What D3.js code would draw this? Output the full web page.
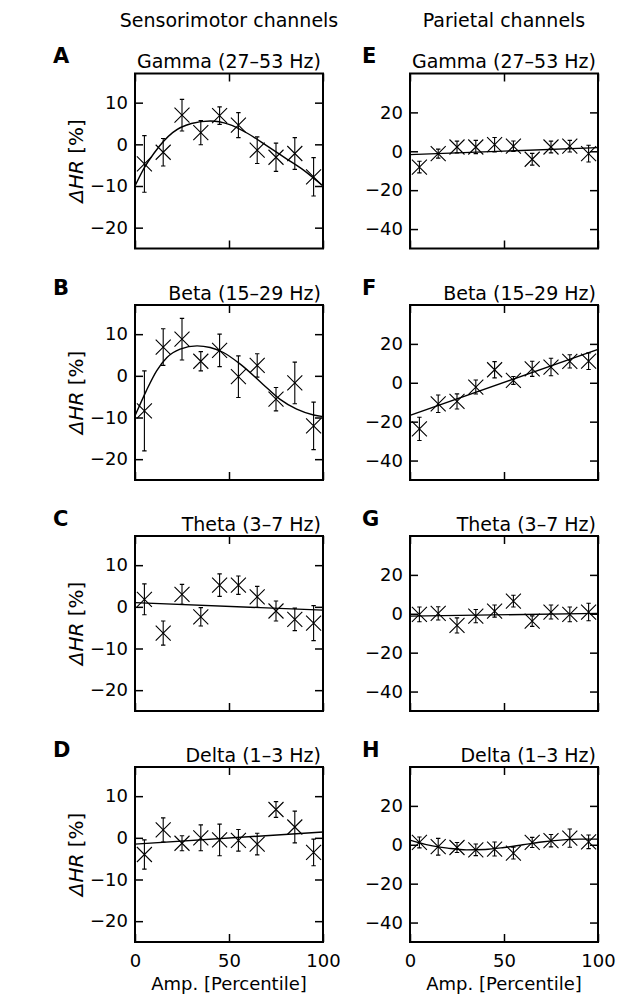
<!DOCTYPE html>
<html>
<head>
<meta charset="utf-8">
<script src="https://cdn.jsdelivr.net/npm/d3@7.9.0/dist/d3.min.js"></script>
<style>
  body { margin: 0; background: #fff; }
  svg { display: block; }
  text { font-family: "DejaVu Sans", sans-serif; fill: #000; }
</style>
</head>
<body>
<div id="chart"></div>
<script>
// amplitude deciles (x positions of the markers)
const deciles = [5, 15, 25, 35, 45, 55, 65, 75, 85, 95];

// sensorimotor channels, ΔHR [%] and error bars
const smGamma = [-4.7, -1.9, 7.0, 2.8, 6.9, 4.6, -1.4, -3.1, -2.2, -7.8];
const smGammaErr = [6.8, 3.3, 3.8, 2.9, 2.1, 3.0, 3.2, 3.4, 3.8, 4.6];
const smBeta = [-8.4, 6.9, 8.8, 3.5, 6.1, -0.2, 2.5, -5.6, -1.7, -12.0];
const smBetaErr = [9.6, 4.4, 5.0, 2.3, 3.9, 5.0, 2.8, 2.8, 5.0, 5.7];
const smTheta = [1.8, -6.3, 3.0, -2.4, 5.2, 5.2, 2.4, -1.0, -3.0, -3.9];
const smThetaErr = [3.7, 2.9, 2.4, 2.2, 2.7, 2.2, 2.5, 2.4, 2.7, 4.2];
const smDelta = [-4.0, 1.9, -1.3, 0.0, -0.5, -0.6, -1.5, 6.8, 2.6, -3.5];
const smDeltaErr = [3.5, 2.9, 1.8, 3.1, 3.8, 2.6, 2.6, 1.9, 3.8, 3.2];

// parietal channels
const paGamma = [-8.1, -1.2, 2.2, 2.2, 3.4, 2.6, -4.1, 2.2, 2.6, -1.2];
const paGammaErr = [3.0, 2.3, 3.0, 3.4, 3.7, 2.7, 3.0, 3.0, 3.0, 4.3];
const paBeta = [-23.7, -10.8, -9.6, -2.2, 6.7, 1.2, 7.2, 8.1, 11.0, 11.1];
const paBetaErr = [6.0, 4.5, 3.9, 3.6, 4.2, 2.0, 3.9, 4.5, 3.4, 4.3];
const paTheta = [-0.3, 0.2, -6.0, -1.2, 1.4, 6.5, -3.8, 0.9, -0.3, 0.9];
const paThetaErr = [3.8, 3.4, 3.9, 3.4, 3.1, 3.0, 2.7, 3.6, 3.8, 4.5];
const paDelta = [1.2, -1.0, -1.4, -2.6, -2.2, -4.3, 1.2, 2.1, 3.4, 1.5];
const paDeltaErr = [2.8, 4.3, 2.6, 3.0, 3.6, 3.0, 2.6, 3.2, 4.7, 3.5];

// fitted curves, [percentile, ΔHR]
const fitSmGamma = [[0, -10], [5, -5.6], [10, -2.2], [20, 2.8], [30, 5.0], [40, 5.6], [50, 4.8], [60, 2.6], [70, -0.3], [80, -3.3], [90, -6.3], [100, -10]];
const fitSmBeta = [[0, -9.6], [6, -3.6], [11.5, 1.2], [17, 4.4], [24, 6.4], [33, 7.2], [40, 6.8], [47, 5.6], [56, 2.8], [68, -2], [77, -5.6], [86, -8], [95, -9.4], [100, -9.8]];
const fitSmTheta = [[0, 1.0], [100, -0.8]];
const fitSmDelta = [[0, -1.5], [100, 1.4]];
const fitPaGamma = [[0, -1.7], [100, 1.9]];
const fitPaBeta = [[0, -16.8], [100, 17.2]];
const fitPaTheta = [[0, -1.2], [100, 0.2]];
const fitPaDelta = [[0, 2.4], [10, -0.2], [20, -1.7], [30, -2.6], [40, -2.4], [50, -1.4], [60, 0], [70, 1.4], [80, 2.4], [90, 2.9], [100, 2.9]];

const bandTitles = ['Gamma (27–53 Hz)', 'Beta (15–29 Hz)', 'Theta (3–7 Hz)', 'Delta (1–3 Hz)'];
const columnTitles = ['Sensorimotor channels', 'Parietal channels'];
const letters = [['A', 'B', 'C', 'D'], ['E', 'F', 'G', 'H']];
const xTicks = [0, 50, 100];
const smYTicks = [10, 0, -10, -20];
const paYTicks = [20, 0, -20, -40];
const smDomain = [-25, 17];
const paDomain = [-50, 40];

const width = 619;
const height = 997;
const colX = [135, 410];
const rowY = [73.5, 305, 536, 767];
const plotW = 188;
const plotH = 175;

const columns = [
  {
    values: [smGamma, smBeta, smTheta, smDelta],
    errors: [smGammaErr, smBetaErr, smThetaErr, smDeltaErr],
    fits: [fitSmGamma, fitSmBeta, fitSmTheta, fitSmDelta],
    domain: smDomain,
    ticks: smYTicks,
  },
  {
    values: [paGamma, paBeta, paTheta, paDelta],
    errors: [paGammaErr, paBetaErr, paThetaErr, paDeltaErr],
    fits: [fitPaGamma, fitPaBeta, fitPaTheta, fitPaDelta],
    domain: paDomain,
    ticks: paYTicks,
  },
];

const svg = d3.select('#chart')
  .append('svg')
  .attr('width', width)
  .attr('height', height);

columnTitles.forEach((t, c) => {
  svg.append('text')
    .attr('x', colX[c] + plotW / 2)
    .attr('y', 26.5)
    .attr('text-anchor', 'middle')
    .style('font-size', '19px')
    .text(t);
});

const xScale = d3.scaleLinear().domain([0, 100]).range([0, plotW]);

columns.forEach((col, c) => {
  const yScale = d3.scaleLinear().domain(col.domain).range([plotH, 0]);

  col.values.forEach((vals, r) => {
    const g = svg.append('g')
      .attr('transform', `translate(${colX[c]}, ${rowY[r]})`);
    const last = r === col.values.length - 1;

    // axes with inward ticks on all four sides
    const left = g.append('g').call(
      d3.axisLeft(yScale).tickValues(col.ticks).tickSize(-8).tickPadding(7)
        .tickFormat(d3.format('d'))
    );
    const right = g.append('g').attr('transform', `translate(${plotW}, 0)`).call(
      d3.axisRight(yScale).tickValues(col.ticks).tickSize(-8).tickFormat('')
    );
    const top = g.append('g').call(
      d3.axisTop(xScale).tickValues(xTicks).tickSize(-8).tickFormat('')
    );
    const bottom = g.append('g').attr('transform', `translate(0, ${plotH})`).call(
      d3.axisBottom(xScale).tickValues(xTicks).tickSize(-8).tickPadding(12)
        .tickFormat(last ? d3.format('d') : '')
    );
    [left, right, top, bottom].forEach((a) => {
      a.select('.domain').remove();
      a.selectAll('.tick line').attr('stroke', '#000').attr('stroke-width', 1.5);
      a.selectAll('.tick text')
        .style('font-family', '"DejaVu Sans", sans-serif')
        .style('font-size', '18px')
        .attr('fill', '#000');
    });

    // fit curve
    const line = d3.line()
      .x((d) => xScale(d[0]))
      .y((d) => yScale(d[1]))
      .curve(d3.curveMonotoneX);
    g.append('path')
      .datum(col.fits[r])
      .attr('d', line)
      .attr('fill', 'none')
      .attr('stroke', '#000')
      .attr('stroke-width', 1.4);

    // error bars
    const errs = col.errors[r];
    const pts = deciles.map((x, i) => ({ x, y: vals[i], e: errs[i] }));
    const eb = g.append('g')
      .attr('stroke', '#000')
      .attr('stroke-width', 1.1)
      .attr('fill', 'none');
    eb.selectAll('path')
      .data(pts)
      .join('path')
      .attr('d', (d) => {
        const x = xScale(d.x);
        const y0 = yScale(d.y + d.e);
        const y1 = yScale(d.y - d.e);
        return `M${x},${y0}V${y1}M${x - 2.2},${y0}H${x + 2.2}M${x - 2.2},${y1}H${x + 2.2}`;
      });

    // x markers
    const m = 7.5;
    g.append('g')
      .attr('stroke', '#000')
      .attr('stroke-width', 1.1)
      .selectAll('path')
      .data(pts)
      .join('path')
      .attr('d', (d) => {
        const x = xScale(d.x);
        const y = yScale(d.y);
        return `M${x - m},${y - m}L${x + m},${y + m}M${x - m},${y + m}L${x + m},${y - m}`;
      });

    // frame
    g.append('rect')
      .attr('width', plotW)
      .attr('height', plotH)
      .attr('fill', 'none')
      .attr('stroke', '#000')
      .attr('stroke-width', 2);

    // band title and panel letter
    g.append('text')
      .attr('x', plotW - 2)
      .attr('y', -5.5)
      .attr('text-anchor', 'end')
      .style('font-size', '19px')
      .text(bandTitles[r]);
    svg.append('text')
      .attr('x', c === 0 ? 53 : 362)
      .attr('y', rowY[r] - 10.5)
      .style('font-size', '21px')
      .style('font-weight', 'bold')
      .text(letters[c][r]);

    if (c === 0) {
      const yl = svg.append('text')
        .attr('transform', `translate(82.5, ${rowY[r] + plotH / 2}) rotate(-90)`)
        .attr('text-anchor', 'middle')
        .style('font-size', '20px');
      yl.append('tspan').style('font-style', 'italic').text('ΔHR');
      yl.append('tspan').text(' [%]');
    }
    if (last) {
      svg.append('text')
        .attr('x', colX[c] + plotW / 2)
        .attr('y', 990)
        .attr('text-anchor', 'middle')
        .style('font-size', '18px')
        .text('Amp. [Percentile]');
    }
  });
});
</script>
</body>
</html>
